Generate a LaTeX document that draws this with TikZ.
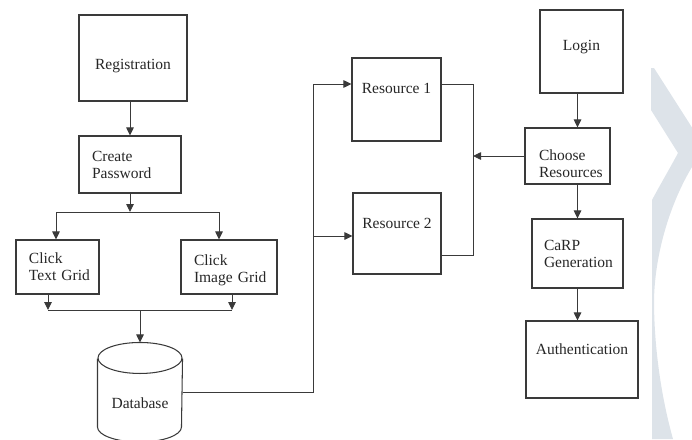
\documentclass[tikz,border=0pt]{standalone}
\usepackage{fontspec}
\setmainfont{Liberation Serif}
\usetikzlibrary{arrows.meta,calc}
\definecolor{ink}{HTML}{3A3A3A}
\definecolor{wmark}{HTML}{DDE3E9}
% move a one-line label up (positive) or down (negative) inside its box
\newcommand{\txtshift}[2]{\raisebox{#1}[\height][\depth]{#2}}
\begin{document}
\begin{tikzpicture}[x=1pt,y=-1pt,
  box/.style={draw=ink, line width=1.05pt, inner sep=0pt, text=black!85,
    font=\fontsize{15.5}{17}\selectfont},
  lbox/.style={box, align=left, text width=#1},
  flow/.style={draw=ink, line width=0.9pt},
  arr/.style={flow, -{Triangle[length=8pt,width=7.5pt]}},
  cyl/.style={draw=ink, line width=1.05pt},
]
\useasboundingbox (0,0) rectangle (692,439);
\clip (0,0) rectangle (692,439);

% pale chevron on the right edge
\fill[wmark] (651,68) -- (654,68) -- (700,140) -- (700,160) -- (692,167)
  .. controls (672,200) and (655,250) .. (654,300)
  .. controls (654,350) and (662,400) .. (673,439)
  -- (652,439) -- (652,200)
  .. controls (660,185) and (670,168) .. (678,153)
  -- (651,110) -- cycle;

% registration branch
\node[box, minimum width=108pt, minimum height=86pt] (reg) at (133,58)
  {\txtshift{-8pt}{Registration}};
\node[lbox=102pt, minimum height=57pt] (cp) at (130,164.5)
  {\hspace*{13pt}Create\\\hspace*{13pt}Password};
\node[lbox=83pt, minimum height=54pt] (tg) at (57.5,267)
  {\hspace*{13pt}Click\\\hspace*{13pt}Text Grid};
\node[lbox=96pt, minimum height=54pt] (ig) at (229,267)
  {\hspace*{13pt}\rule{0pt}{18pt}Click\\\hspace*{13pt}Image Grid};
\node[box, draw=none, minimum width=84pt, minimum height=99pt] (db) at (140,392.5)
  {\txtshift{-10.5pt}{Database}};

% resources
\node[box, minimum width=89pt, minimum height=83pt] (r1) at (396.5,99.5)
  {\txtshift{10.7pt}{Resource 1}};
\node[box, minimum width=88pt, minimum height=81pt] (r2) at (397,233.5)
  {\txtshift{9.7pt}{Resource 2}};

% login branch
\node[box, minimum width=83pt, minimum height=83pt] (login) at (581.5,51.5)
  {\txtshift{4.7pt}{Login}};
\node[lbox=85pt, minimum height=56pt] (ch) at (567.5,156)
  {\hspace*{14pt}\rule{0pt}{26.5pt}Choose\\\hspace*{14pt}Resources};
\node[lbox=91pt, minimum height=69pt] (carp) at (577.5,253.5)
  {\hspace*{12pt}CaRP\\\hspace*{12pt}Generation};
\node[box, minimum width=112pt, minimum height=77pt] (auth) at (582,359.5)
  {\txtshift{10.3pt}{Authentication}};

% database cylinder
\draw[cyl] ($(db.north)+(0,15.5)$) ellipse[x radius=42pt, y radius=15.5pt];
\draw[cyl] (db.west |- 0,358.5) -- (db.west |- 0,427)
  arc[start angle=180, end angle=360, x radius=42pt, y radius=15pt]
  -- (db.east |- 0,358.5);

% registration flow
\coordinate (fork) at (130,212);
\coordinate (forkL) at (56,212);
\coordinate (forkR) at (219,212);
\coordinate (mergeL) at (48,310);
\coordinate (mergeR) at (232,310);
\draw[arr] (reg.south -| cp.north) -- (cp.north);
\draw[arr] (cp.south) -- (fork);
\draw[flow] (forkL) -- (forkR);
\draw[arr] (forkL) -- (forkL |- tg.north);
\draw[arr] (forkR) -- (forkR |- ig.north);
\draw[arr] (mergeL |- tg.south) -- (mergeL);
\draw[arr] (mergeR |- ig.south) -- (mergeR);
\draw[flow] (mergeL) -- (mergeR);
\draw[arr] (db.north |- mergeL) -- (db.north);

% database to the resources
\coordinate (busTop) at (313,84);
\coordinate (busMid) at (313,236);
\draw[flow] (db.east) -| (busTop);
\draw[arr] (busTop) -- (busTop -| r1.west);
\draw[arr] (busMid) -- (busMid -| r2.west);

% resources back to the chooser
\coordinate (loopT) at (473,84);
\coordinate (loopB) at (473,255);
\draw[flow] (loopT -| r1.east) -- (loopT) -- (loopB) -- (loopB -| r2.east);
\draw[arr] (ch.west) -- (ch.west -| loopT);

% login flow
\draw[arr] (login.south -| carp.north) -- (ch.north -| carp.north);
\draw[arr] (ch.south -| carp.north) -- (carp.north);
\draw[arr] (carp.south) -- (auth.north -| carp.south);
\end{tikzpicture}
\end{document}
